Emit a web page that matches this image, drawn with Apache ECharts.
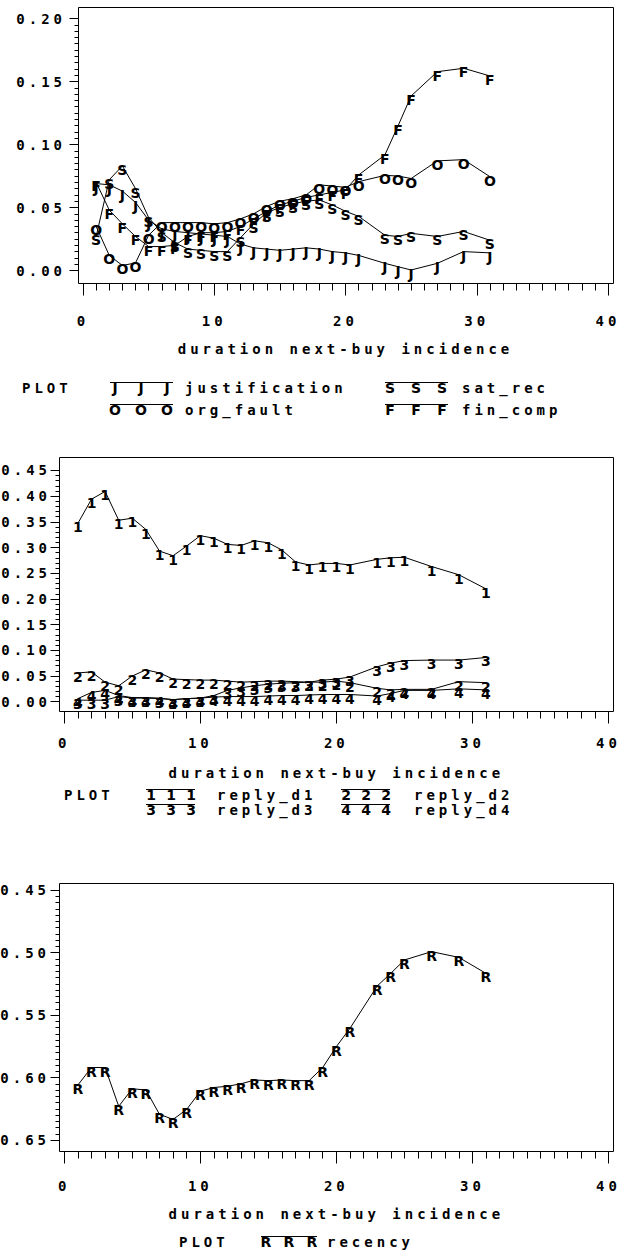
<!DOCTYPE html>
<html>
<head>
<meta charset="utf-8">
<script src="https://cdn.jsdelivr.net/npm/echarts@6/dist/echarts.min.js"></script>
<style>
  html, body { margin: 0; padding: 0; background: #fff; }
  #chart { width: 631px; height: 1252px; }
  /* SAS line-printer look: wide spaced monospace text */
  #chart text[style*="Mono"] { letter-spacing: 4px; }
</style>
</head>
<body>
<div id="chart"></div>
<script>
const MONO = 'DejaVu Sans Mono'
const SANS = 'DejaVu Sans'

// x values (duration in weeks)
const duration = [1, 2, 3, 4, 5, 6, 7, 8, 9, 10, 11, 12, 13, 14, 15, 16, 17, 18, 19, 20, 21, 23, 24, 25, 27, 29, 31]

// panel 1
const justification = [0.069, 0.068, 0.063, 0.054, 0.040, 0.033, 0.031, 0.030, 0.029, 0.028, 0.027, 0.021, 0.018, 0.017, 0.016, 0.017, 0.018, 0.017, 0.015, 0.014, 0.012, 0.0057, 0.003, 0.0004, 0.0057, 0.015, 0.014]
const satRec = [0.027, 0.072, 0.083, 0.065, 0.042, 0.030, 0.022, 0.017, 0.016, 0.015, 0.015, 0.026, 0.037, 0.046, 0.050, 0.053, 0.055, 0.056, 0.052, 0.047, 0.043, 0.028, 0.027, 0.0295, 0.027, 0.031, 0.024]
const orgFault = [0.035, 0.012, 0.004, 0.006, 0.028, 0.038, 0.038, 0.038, 0.038, 0.037, 0.038, 0.041, 0.045, 0.051, 0.055, 0.057, 0.060, 0.068, 0.067, 0.066, 0.0705, 0.0755, 0.075, 0.073, 0.087, 0.088, 0.0745]
const finComp = [0.070, 0.048, 0.037, 0.027, 0.019, 0.019, 0.020, 0.027, 0.030, 0.030, 0.031, 0.035, 0.041, 0.047, 0.052, 0.055, 0.058, 0.060, 0.062, 0.064, 0.0758, 0.0917, 0.1147, 0.1385, 0.1578, 0.1605, 0.1544]

// panel 2
const replyD1 = [0.347, 0.394, 0.409, 0.353, 0.357, 0.335, 0.293, 0.284, 0.303, 0.323, 0.318, 0.306, 0.304, 0.313, 0.309, 0.295, 0.272, 0.266, 0.269, 0.269, 0.266, 0.277, 0.280, 0.281, 0.263, 0.247, 0.2195]
const replyD2 = [0.056, 0.058, 0.038, 0.031, 0.050, 0.062, 0.056, 0.044, 0.043, 0.042, 0.042, 0.040, 0.038, 0.039, 0.040, 0.040, 0.039, 0.038, 0.038, 0.040, 0.037, 0.026, 0.023, 0.024, 0.024, 0.039, 0.037]
const replyD3 = [0.003, 0.003, 0.003, 0.010, 0.007, 0.007, 0.006, 0.004, 0.006, 0.007, 0.012, 0.022, 0.027, 0.031, 0.034, 0.036, 0.037, 0.038, 0.042, 0.044, 0.048, 0.068, 0.075, 0.080, 0.081, 0.081, 0.086]
const replyD4 = [0.006, 0.018, 0.022, 0.012, 0.008, 0.008, 0.007, 0.004, 0.006, 0.007, 0.009, 0.010, 0.010, 0.010, 0.011, 0.012, 0.012, 0.013, 0.014, 0.014, 0.014, 0.011, 0.016, 0.022, 0.022, 0.025, 0.023]

// panel 3
const recency = [0.606, 0.592, 0.592, 0.623, 0.609, 0.610, 0.6295, 0.6335, 0.6255, 0.611, 0.608, 0.607, 0.605, 0.602, 0.6025, 0.602, 0.6025, 0.6025, 0.592, 0.5753, 0.5607, 0.5268, 0.5167, 0.506, 0.4993, 0.5039, 0.5167]

const xRange = [0, 40]
const yRanges = [[0, 0.2], [0, 0.45], [0.45, 0.65]]
const yMinorSplit = [10, 5, 10]
const xTitle = 'duration next-buy incidence'

const panels = [
  {
    frame: { left: 78.5, top: 7.5, width: 535, height: 276 },
    data: { left: 83, top: 18.5, width: 525, height: 252 },
    xOffset: 13, yOffset: 4.5, labelMargin: 30, nameGap: 58, yMargin: 12.5, yPad: 8,
    series: [['J', justification], ['S', satRec], ['O', orgFault], ['F', finComp]],
    legend: {
      plotX: 22, rows: [388, 410], step: 26, width: 63,
      items: [
        { letter: 'J', name: 'justification', sx: 110, nx: 185, row: 0 },
        { letter: 'S', name: 'sat_rec', sx: 385, nx: 462, row: 0 },
        { letter: 'O', name: 'org_fault', sx: 110, nx: 185, row: 1 },
        { letter: 'F', name: 'fin_comp', sx: 385, nx: 462, row: 1 }
      ]
    }
  },
  {
    frame: { left: 59.5, top: 457.5, width: 554, height: 254 },
    data: { left: 64.3, top: 470.4, width: 544.1, height: 231.3 },
    xOffset: 9.8, yOffset: 4.8, labelMargin: 24.5, nameGap: 54, yMargin: 8.5, yPad: 0,
    series: [['1', replyD1], ['2', replyD2], ['3', replyD3], ['4', replyD4]],
    legend: {
      plotX: 64, rows: [795, 810], step: 20, width: 49,
      items: [
        { letter: '1', name: 'reply_d1', sx: 146, nx: 217, row: 0 },
        { letter: '2', name: 'reply_d2', sx: 341, nx: 414, row: 0 },
        { letter: '3', name: 'reply_d3', sx: 146, nx: 217, row: 1 },
        { letter: '4', name: 'reply_d4', sx: 341, nx: 414, row: 1 }
      ]
    }
  },
  {
    frame: { left: 59.5, top: 883.5, width: 554, height: 268 },
    data: { left: 64.3, top: 890, width: 544.1, height: 250 },
    xOffset: 11.5, yOffset: 4.8, labelMargin: 27.5, nameGap: 55, yMargin: 9.5, yPad: 0,
    inverse: true,
    series: [['R', recency]],
    legend: {
      plotX: 179, rows: [1242], step: 23, width: 56,
      items: [
        { letter: 'R', name: 'recency', sx: 261, nx: 327, row: 0 }
      ]
    }
  }
]

const monoText = { color: '#000', fontFamily: MONO, fontWeight: 'bold', fontSize: 14 }

const grid = []
const xAxis = []
const yAxis = []
const series = []
const graphic = []

panels.forEach((p, i) => {
  grid[i] = Object.assign({ outerBoundsMode: 'none', containLabel: false }, p.data)
  grid[i + 3] = Object.assign({
    outerBoundsMode: 'none', containLabel: false,
    show: true, borderColor: '#000', borderWidth: 1, backgroundColor: 'transparent'
  }, p.frame)

  xAxis[i] = {
    type: 'value', gridIndex: i, min: xRange[0], max: xRange[1], interval: 10,
    position: 'bottom', offset: p.xOffset,
    axisLine: { show: false, onZero: false },
    axisTick: { show: true, length: 12, lineStyle: { color: '#000', width: 1 } },
    minorTick: { show: true, splitNumber: 10, length: 7, lineStyle: { color: '#000', width: 1 } },
    splitLine: { show: false },
    minorSplitLine: { show: false },
    axisLabel: Object.assign({ margin: p.labelMargin }, monoText),
    name: xTitle, nameLocation: 'middle', nameGap: p.nameGap,
    nameTextStyle: monoText
  }
  yAxis[i] = {
    type: 'value', gridIndex: i, min: yRanges[i][0], max: yRanges[i][1], interval: 0.05,
    inverse: !!p.inverse, position: 'left', offset: p.yOffset,
    axisLine: { show: false, onZero: false },
    axisTick: { show: true, length: 9, lineStyle: { color: '#000', width: 1 } },
    minorTick: { show: true, splitNumber: yMinorSplit[i], length: 4, lineStyle: { color: '#000', width: 1 } },
    splitLine: { show: false },
    minorSplitLine: { show: false },
    axisLabel: Object.assign({
      margin: p.yMargin,
      padding: [p.yPad, 0, 0, 0],
      formatter: (v) => v.toFixed(2)
    }, monoText)
  }
  // hidden axes for the frame grids
  xAxis[i + 3] = { type: 'value', gridIndex: i + 3, min: 0, max: 1, show: false }
  yAxis[i + 3] = { type: 'value', gridIndex: i + 3, min: 0, max: 1, show: false }

  p.series.forEach(([letter, values]) => {
    series.push({
      type: 'line',
      xAxisIndex: i,
      yAxisIndex: i,
      data: duration.map((d, k) => [d, values[k]]),
      symbol: 'circle',
      symbolSize: 0,
      showSymbol: true,
      showAllSymbol: true,
      clip: false,
      silent: true,
      animation: false,
      emphasis: { disabled: true },
      lineStyle: { color: '#000', width: 1 },
      itemStyle: { color: '#000' },
      label: {
        show: true,
        position: 'bottom',
        distance: -3,
        formatter: letter,
        color: '#000',
        fontFamily: SANS,
        fontWeight: 'bold',
        fontSize: 14
      }
    })
  })

  // legend drawn like the SAS "PLOT" key
  const lg = p.legend
  graphic.push({
    type: 'text', x: lg.plotX, y: lg.rows[0], silent: true,
    style: { text: 'PLOT', font: 'bold 14px "' + MONO + '"', fill: '#000', align: 'left', verticalAlign: 'middle' }
  })
  lg.items.forEach(item => {
    const y = lg.rows[item.row]
    graphic.push({
      type: 'line', silent: true,
      shape: { x1: item.sx, y1: y - 5.5, x2: item.sx + lg.width, y2: y - 5.5 },
      style: { stroke: '#000', lineWidth: 1 }
    })
    for (let k = 0; k < 3; k++) {
      graphic.push({
        type: 'text', x: item.sx + 5 + k * lg.step, y: y, silent: true,
        style: { text: item.letter, font: 'bold 14px "' + SANS + '"', fill: '#000', align: 'center', verticalAlign: 'middle' }
      })
    }
    graphic.push({
      type: 'text', x: item.nx, y: y, silent: true,
      style: { text: item.name, font: 'bold 14px "' + MONO + '"', fill: '#000', align: 'left', verticalAlign: 'middle' }
    })
  })
})

const chart = echarts.init(document.getElementById('chart'), null, { renderer: 'svg' })

chart.setOption({
  animation: false,
  backgroundColor: '#fff',
  grid: grid,
  xAxis: xAxis,
  yAxis: yAxis,
  series: series,
  graphic: graphic
})
</script>
</body>
</html>
